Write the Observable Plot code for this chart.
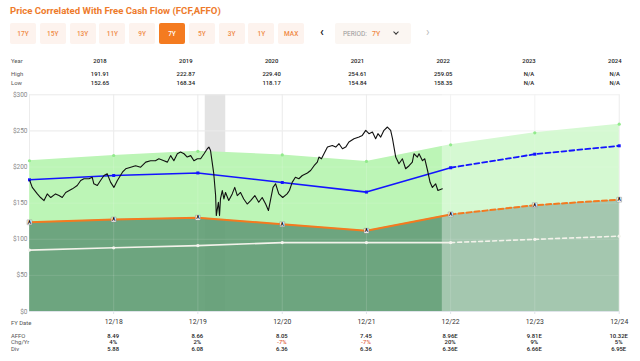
<!DOCTYPE html>
<html><head><meta charset="utf-8">
<script src="https://cdn.jsdelivr.net/npm/d3@7"></script>
<script src="https://cdn.jsdelivr.net/npm/@observablehq/plot@0.6"></script>
<style>
body{margin:0;background:#fff;font-family:Roboto,"Noto Sans",sans-serif}
#root{position:relative;width:640px;height:361px;overflow:hidden}
.abs{position:absolute;white-space:nowrap}
.title{left:10px;top:4px;font-size:9.6px;font-weight:700;color:#ee7b2c;line-height:13px}
.btn{top:23px;width:26px;height:21px;background:#fdf3ee;color:#f08a45;font-size:6.5px;font-weight:500;display:flex;align-items:center;justify-content:center;border-radius:2px}
.btn.active{background:#f47b20;color:#fff}
.cell{font-size:5.9px;color:#222;line-height:6px;transform:translateX(-50%);font-weight:500}
.lab{font-size:5.9px;color:#555;line-height:6px;left:11px}
.neg{color:#e0603a}
#chart{position:absolute;left:0;top:84px}
</style></head><body><div id="root"><div id="chart"></div></div>
<script>
// ---- data ----
const periods = ["17Y","15Y","13Y","11Y","9Y","7Y","5Y","3Y","1Y","MAX"];
const activePeriod = "7Y";
const years = ["2018","2019","2020","2021","2022","2023","2024"];
const highs = ["191.91","222.87","229.40","254.61","259.05","N/A","N/A"];
const lows  = ["152.65","168.34","118.17","154.84","158.35","N/A","N/A"];
const fyDates = ["2017-12-31","2018-12-31","2019-12-31","2020-12-31","2021-12-31","2022-12-31","2023-12-31","2024-12-31"];
const affoText = ["8.49","8.66","8.05","7.45","8.96E","9.81E","10.32E"];
const chgText  = ["4%","2%","-7%","-7%","20%","9%","5%"];
const divText  = ["5.88","6.08","6.36","6.36","6.36E","6.66E","6.95E"];
const upperBand   = [208.7,216.0,221.7,216.8,207.8,230.8,247.4,259.3];
const normalPrice = [182.3,188.3,191.8,178.6,165.3,199.0,217.8,229.4];
const affoPrice   = [123.5,127.3,129.9,120.8,111.8,134.4,147.2,154.8];
const divPrice    = [85.0,88.2,91.2,95.4,95.4,95.4,99.9,104.3];
const firstForecastIndex = 5;
const recession = ["2020-02-01","2020-04-30"];
const forecastStart = "2022-11-25";
const yTicks = [0,50,100,150,200,250,300];
const priceDates = ["2018-01-01","2018-01-12","2018-02-03","2018-02-17","2018-03-04","2018-03-18","2018-04-02","2018-04-23","2018-05-08","2018-05-22","2018-06-06","2018-07-05","2018-07-26","2018-08-10","2018-08-24","2018-09-15","2018-09-29","2018-10-06","2018-10-21","2018-11-04","2018-11-19","2018-12-03","2018-12-18","2019-01-01","2019-01-16","2019-02-07","2019-02-21","2019-03-15","2019-04-05","2019-04-27","2019-05-19","2019-06-09","2019-06-30","2019-07-15","2019-08-06","2019-08-21","2019-09-04","2019-09-18","2019-10-03","2019-10-17","2019-11-01","2019-11-15","2019-11-30","2019-12-14","2019-12-29","2020-01-12","2020-01-27","2020-02-10","2020-02-17","2020-02-24","2020-03-02","2020-03-09","2020-03-17","2020-03-20","2020-03-29","2020-04-03","2020-04-07","2020-04-15","2020-04-22","2020-04-29","2020-05-13","2020-05-28","2020-06-08","2020-06-19","2020-07-03","2020-07-17","2020-08-01","2020-08-16","2020-09-03","2020-09-20","2020-10-05","2020-10-20","2020-11-01","2020-11-11","2020-11-21","2020-12-02","2020-12-16","2021-01-02","2021-01-21","2021-01-31","2021-02-12","2021-02-26","2021-03-13","2021-03-28","2021-04-19","2021-05-03","2021-05-18","2021-06-01","2021-06-08","2021-06-19","2021-06-30","2021-07-15","2021-08-05","2021-08-20","2021-09-03","2021-09-18","2021-10-02","2021-10-16","2021-11-07","2021-11-29","2021-12-13","2021-12-28","2022-01-11","2022-01-26","2022-02-09","2022-02-19","2022-03-03","2022-03-17","2022-04-01","2022-04-15","2022-04-23","2022-05-07","2022-05-21","2022-06-05","2022-06-19","2022-07-04","2022-07-18","2022-07-25","2022-08-09","2022-08-16","2022-08-31","2022-09-10","2022-09-22","2022-10-03","2022-10-13","2022-10-27","2022-11-06","2022-11-25"];
const priceValues = [181.4,171.8,162.8,157.8,153.6,162.8,157.8,162.8,160.5,157.8,164.8,169.8,174.4,181.4,183.8,183.8,185.8,176.8,174.4,181.4,188.3,190.6,178.8,171.8,181.4,192.8,197.6,199.8,201.8,199.8,206.8,208.8,208.8,211.4,208.8,206.8,215.8,208.8,218.4,220.8,218.4,213.8,215.8,208.8,211.4,211.4,218.4,225.3,227.6,222.8,206.8,190.8,160.5,132.8,151.3,132.8,155.8,167.5,155.8,164.8,153.6,162.8,171.8,160.5,164.8,155.8,148.8,153.6,160.5,151.3,157.8,148.8,139.8,155.8,171.8,176.8,162.8,157.8,162.8,167.5,178.8,185.8,183.8,188.3,191.8,195.2,201.8,206.8,213.8,211.4,218.4,227.6,229.8,227.6,232.3,225.3,227.6,234.6,239.2,241.5,243.8,250.8,246.2,248.5,239.2,246.2,241.5,250.8,255.4,250.8,239.2,213.8,204.5,211.4,197.6,201.8,206.8,218.4,213.8,218.4,208.8,211.4,195.2,178.8,171.8,176.8,167.5,169.8];

// ---- build tables ----
const fy = fyDates.map((d, i) => ({date: new Date(d), upper: upperBand[i], normal: normalPrice[i], affo: affoPrice[i], div: divPrice[i]}));
const hist = fy.slice(0, firstForecastIndex + 1);
const fcst = fy.slice(firstForecastIndex);
const price = priceDates.map((d, i) => ({date: new Date(d), v: priceValues[i]}));
const band = [{x1: new Date(recession[0]), x2: new Date(recession[1])}];
const lighten = [{x1: new Date(forecastStart), x2: new Date(fyDates[fyDates.length - 1])}];
const fyTickDates = fyDates.slice(1).map(d => new Date(d));
const gridDates = fyDates.map(d => new Date(d));

const chart = Plot.plot({
  width: 640, height: 254,
  marginLeft: 29, marginRight: 21.3, marginTop: 10.3, marginBottom: 27,
  style: {fontFamily: "Roboto, sans-serif", background: "transparent"},
  x: {type: "utc", domain: [gridDates[0], gridDates[gridDates.length - 1]]},
  y: {type: "linear", domain: [0, 300]},
  marks: [
    Plot.rect(band, {x1: "x1", x2: "x2", fill: "#e3e3e3"}),
    Plot.ruleY(yTicks, {stroke: "#e9e9e9", strokeWidth: 1}),
    Plot.ruleX(gridDates, {stroke: "#e9e9e9", strokeWidth: 1}),
    Plot.areaY(fy, {x: "date", y1: "affo", y2: "upper", fill: "#bcf5b6"}),
    Plot.areaY(fy, {x: "date", y1: 0, y2: "affo", fill: "#5d9b71", fillOpacity: 0.9}),
    Plot.rect(lighten, {x1: "x1", x2: "x2", fill: "#ffffff", fillOpacity: 0.38}),
    Plot.ruleY(yTicks.slice(1), {stroke: "#ffffff", strokeOpacity: 0.12}),
    Plot.ruleX(gridDates, {stroke: "#ffffff", strokeOpacity: 0.15}),
    Plot.ruleY([0], {stroke: "#dfe4ea"}),
    // dividend line
    Plot.lineY(hist, {x: "date", y: "div", stroke: "#f2f2ea", strokeWidth: 1.6}),
    Plot.lineY(fcst, {x: "date", y: "div", stroke: "#f2f2ea", strokeWidth: 1.6, strokeDasharray: "4,3"}),
    Plot.dot(fy, {x: "date", y: "div", r: 1.6, fill: "#f4f4ee"}),
    // upper band points
    Plot.dot(fy, {x: "date", y: "upper", r: 1.6, fill: "#92ea8c"}),
    // normal price
    Plot.lineY(hist, {x: "date", y: "normal", stroke: "#1414ff", strokeWidth: 1.6}),
    Plot.lineY(fcst, {x: "date", y: "normal", stroke: "#1414ff", strokeWidth: 1.8, strokeDasharray: "5,3"}),
    Plot.dot(fy, {x: "date", y: "normal", symbol: "square", r: 1.7, fill: "#1414ff"}),
    // price
    Plot.lineY(price, {x: "date", y: "v", stroke: "#111", strokeWidth: 1.1}),
    // AFFO line
    Plot.lineY(hist, {x: "date", y: "affo", stroke: "#f47a1f", strokeWidth: 2}),
    Plot.lineY(fcst, {x: "date", y: "affo", stroke: "#f47a1f", strokeWidth: 2, strokeDasharray: "5,3"}),
    Plot.dot(fy, {x: "date", y: "affo", symbol: "square", r: 2.7, fill: "#fff", stroke: "#888", strokeWidth: 0.5}),
    Plot.text(fy, {x: "date", y: "affo", text: () => "A", fontSize: 5, fontWeight: 700, fill: "#111"}),
    Plot.axisY({ticks: yTicks, tickFormat: d => "$" + d, tickSize: 0, tickPadding: 2, fontSize: 6.5}),
    Plot.axisX({ticks: fyTickDates, tickFormat: d3.utcFormat("%m/%y"), tickSize: 3, tickPadding: 5, fontSize: 6.8})
  ]
});
document.getElementById("chart").appendChild(chart);
d3.select(chart).selectAll("[aria-label='y-axis tick label']").attr("fill", "#888");
d3.select(chart).selectAll("[aria-label='x-axis tick label']").attr("fill", "#333");
d3.select(chart).selectAll("[aria-label='x-axis tick']").attr("stroke", "#dfe4ea");

// ---- HTML parts ----
const root = document.getElementById("root");
function add(cls, text, left, top, extra) {
  const el = document.createElement("div");
  el.className = "abs " + cls;
  el.textContent = text;
  if (left != null) el.style.left = left + "px";
  if (top != null) el.style.top = top + "px";
  if (extra) Object.assign(el.style, extra);
  root.appendChild(el);
  return el;
}
add("title", "Price Correlated With Free Cash Flow (FCF,AFFO)");
periods.forEach((p, i) => add("btn" + (p === activePeriod ? " active" : ""), p, 10 + i * 29.8, null));
add("", "‹", 320, 25, {fontSize: "12px", fontWeight: 700, color: "#222"});
add("", "", 335, 23, {width: "76px", height: "21px", background: "#fbf6f2", borderRadius: "2px"});
add("", "PERIOD:", 343, 30, {fontSize: "6.5px", color: "#999", lineHeight: "8px"});
add("", activePeriod, 372, 29.5, {fontSize: "7px", color: "#f08a45", lineHeight: "8px", fontWeight: 500});
add("", "", 394, 29.5, {width: "3px", height: "3px", borderRight: "1.3px solid #333", borderBottom: "1.3px solid #333", transform: "rotate(45deg)"});
add("", "›", 426, 25, {fontSize: "12px", color: "#bbb"});

// top table
add("lab", "Year", null, 58);
add("lab", "High", null, 71);
add("lab", "Low", null, 80);
years.forEach((y, i) => {
  const cx = 100 + i * 85.8;
  add("cell", y, cx, 58);
  add("cell", highs[i], cx, 71);
  add("cell", lows[i], cx, 80);
});
// bottom table
const xs = chart.scale("x");
add("lab", "FY Date", null, 319.5);
add("lab", "AFFO", null, 332.8);
add("lab", "Chg/Yr", null, 339.4);
add("lab", "Div", null, 346);
fyTickDates.forEach((d, i) => {
  const cx = xs.apply(d);
  add("cell", affoText[i], cx, 332.8);
  add("cell" + (chgText[i].startsWith("-") ? " neg" : ""), chgText[i], cx, 339.4);
  add("cell", divText[i], cx, 346);
});
</script></body></html>
